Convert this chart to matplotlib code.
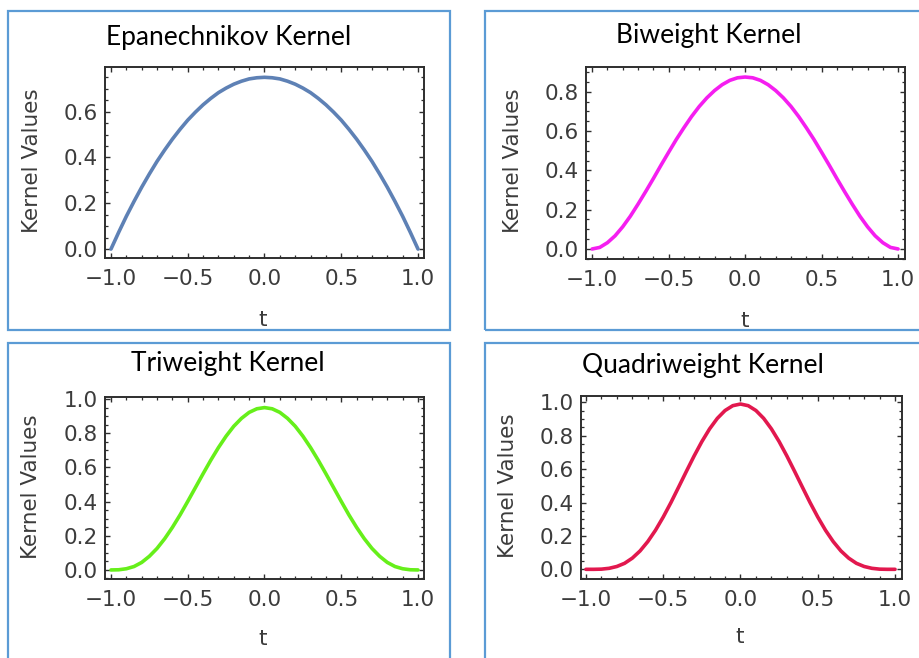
import numpy as np
import matplotlib
matplotlib.use("Agg")
import matplotlib.pyplot as plt
from matplotlib.patches import Rectangle
from matplotlib.ticker import MultipleLocator

# values, t from -1 to 1 in steps of 0.05
t = np.linspace(-1, 1, 41)

epanechnikov = [0.000, 0.073, 0.143, 0.208, 0.270, 0.328, 0.383, 0.433, 0.480, 0.523, 0.563,
                0.598, 0.630, 0.658, 0.683, 0.703, 0.720, 0.733, 0.743, 0.748, 0.750, 0.748,
                0.743, 0.733, 0.720, 0.703, 0.683, 0.658, 0.630, 0.598, 0.563, 0.523, 0.480,
                0.433, 0.383, 0.328, 0.270, 0.208, 0.143, 0.073, 0.000]
biweight = [0.000, 0.008, 0.032, 0.067, 0.113, 0.167, 0.228, 0.292, 0.358, 0.426, 0.492,
            0.557, 0.617, 0.674, 0.725, 0.769, 0.806, 0.836, 0.858, 0.871, 0.875, 0.871,
            0.858, 0.836, 0.806, 0.769, 0.725, 0.674, 0.617, 0.557, 0.492, 0.426, 0.358,
            0.292, 0.228, 0.167, 0.113, 0.067, 0.032, 0.008, 0.000]
triweight = [0.000, 0.001, 0.007, 0.020, 0.044, 0.080, 0.126, 0.183, 0.249, 0.322, 0.401,
             0.482, 0.563, 0.642, 0.716, 0.783, 0.841, 0.887, 0.922, 0.943, 0.950, 0.943,
             0.922, 0.887, 0.841, 0.783, 0.716, 0.642, 0.563, 0.482, 0.401, 0.322, 0.249,
             0.183, 0.126, 0.080, 0.044, 0.020, 0.007, 0.001, 0.000]
quadriweight = [0.000, 0.000, 0.001, 0.006, 0.017, 0.036, 0.067, 0.110, 0.166, 0.234, 0.313,
                0.400, 0.493, 0.587, 0.679, 0.765, 0.841, 0.904, 0.951, 0.980, 0.990, 0.980,
                0.951, 0.904, 0.841, 0.765, 0.679, 0.587, 0.493, 0.400, 0.313, 0.234, 0.166,
                0.110, 0.067, 0.036, 0.017, 0.006, 0.001, 0.000, 0.000]

titles = ["Epanechnikov Kernel", "Biweight Kernel", "Triweight Kernel", "Quadriweight Kernel"]
curves = [epanechnikov, biweight, triweight, quadriweight]
colors = ["#5e81b5", "#f51ef0", "#66ef1a", "#e2184e"]

W, H = 920, 658
fig = plt.figure(figsize=(W / 100, H / 100), dpi=100)

# layout in pixels (top-down): panel box, axes box, limits, label spots
panels = [
    dict(box=(8, 11.5, 450, 330.5), ax=(105, 67, 424, 258), xlim=(-1.039, 1.039), ylim=(-0.039, 0.795),
         title=(229, 37), xlab=(263, 320), ylab=(32, 161)),
    dict(box=(485, 11.5, 930, 330.5), ax=(586, 67, 905, 259), xlim=(-1.04, 1.045), ylim=(-0.051, 0.926),
         title=(709, 36), xlab=(745, 321), ylab=(513, 161)),
    dict(box=(8, 342.5, 450, 665), ax=(105, 397, 424, 579), xlim=(-1.039, 1.039), ylim=(-0.053, 1.012),
         title=(228, 364), xlab=(263, 639), ylab=(31, 487)),
    dict(box=(485, 342.5, 930, 665), ax=(581, 396, 902, 579), xlim=(-1.032, 1.045), ylim=(-0.058, 1.038),
         title=(703, 366), xlab=(740, 637), ylab=(508, 486)),
]

frame_col = "#2e2e2e"
text_col = "#3c3c3c"

for p, title, vals, col in zip(panels, titles, curves, colors):
    x0, y0, x1, y1 = p["box"]
    fig.add_artist(Rectangle((x0 / W, 1 - y1 / H), (x1 - x0) / W, (y1 - y0) / H,
                             transform=fig.transFigure, fill=False, ec="#5b9bd5", lw=1.6))

    l, tp, r, b = p["ax"]
    ax = fig.add_axes([l / W, 1 - b / H, (r - l) / W, (b - tp) / H])
    ax.plot(t, vals, color=col, lw=2.6, solid_joinstyle="round", solid_capstyle="round")
    ax.set_xlim(*p["xlim"])
    ax.set_ylim(*p["ylim"])

    ax.xaxis.set_major_locator(MultipleLocator(0.5))
    ax.xaxis.set_minor_locator(MultipleLocator(0.1))
    ax.yaxis.set_major_locator(MultipleLocator(0.2))
    ax.yaxis.set_minor_locator(MultipleLocator(0.05))
    ax.xaxis.set_major_formatter(lambda v, pos: f"{v:.1f}".replace("-", "\u2212"))
    ax.yaxis.set_major_formatter(lambda v, pos: f"{v:.1f}")

    ax.tick_params(which="both", direction="in", top=True, right=True, color=frame_col,
                   labelcolor=text_col, labelsize=15.5)
    ax.tick_params(which="major", length=3.5, width=1.0)
    ax.tick_params(which="minor", length=2, width=0.9)
    ax.tick_params(axis="x", which="major", pad=8)
    ax.tick_params(axis="y", which="major", pad=5)
    for lab in ax.get_xticklabels() + ax.get_yticklabels():
        lab.set_family("DejaVu Sans")
    for s in ax.spines.values():
        s.set_color(frame_col)
        s.set_linewidth(1.4)

    tx, ty = p["title"]
    fig.text(tx / W, 1 - ty / H, title, ha="center", va="center", fontsize=19,
             family="Lato", color="black")
    lx, ly = p["xlab"]
    fig.text(lx / W, 1 - ly / H, "t", ha="center", va="center", fontsize=15.5,
             family="DejaVu Sans", color=text_col)
    vx, vy = p["ylab"]
    fig.text(vx / W, 1 - vy / H, "Kernel Values", ha="center", va="center", fontsize=15.5,
             rotation=90, family="DejaVu Sans", color=text_col)

fig.savefig("out.png", dpi=100)
